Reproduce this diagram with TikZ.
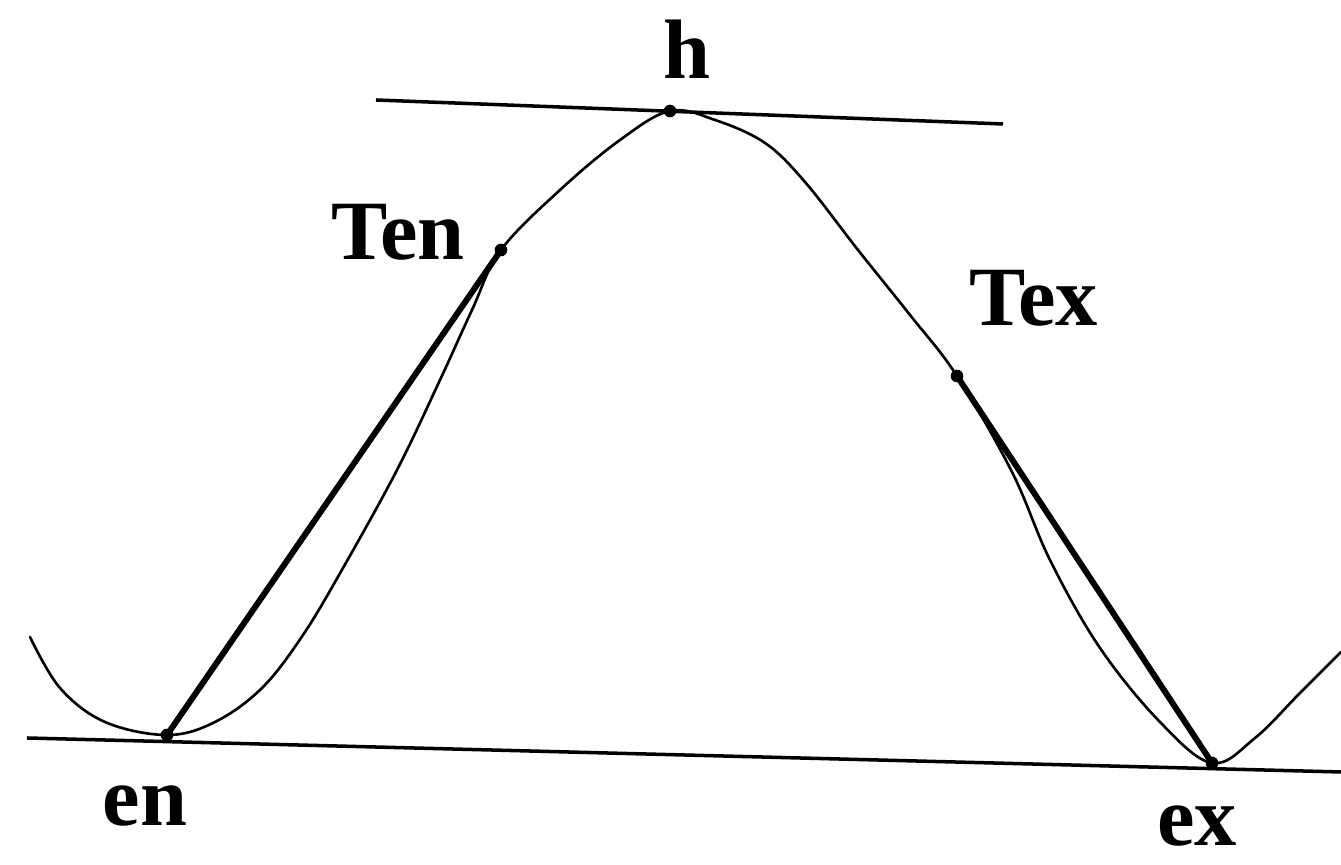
\documentclass[tikz,border=0pt]{standalone}
\usepackage{fontspec}
\setmainfont{Liberation Serif}
\begin{document}
\begin{tikzpicture}[x=0.01cm,y=-0.01cm,
  thinline/.style={line width=0.75pt,line join=round,line cap=round},
  thickline/.style={line width=1.7pt,line cap=round},
  baseline/.style={line width=1pt},
  pt/.style={circle,fill=black,inner sep=0pt,minimum size=3.6pt},
  lab/.style={font=\bfseries\fontsize{24}{24}\selectfont,inner sep=0pt}]
\useasboundingbox (0,0) rectangle (1341,865);
% key points
\node[pt] (en) at (167,735) {};
\node[pt] (Ten) at (501,250) {};
\node[pt] (h) at (670,111) {};
\node[pt] (Tex) at (957,376) {};
\node[pt] (ex) at (1212,763) {};
% tangent lines
\coordinate (tl1) at (376,100);
\coordinate (tl2) at (1003,124);
\coordinate (bl1) at (27,738);
\coordinate (bl2) at (1341,772);
\draw[baseline] (tl1) -- (tl2);
\draw[baseline] (bl1) -- (bl2);
% the curve
\draw[thinline] plot[smooth,tension=0.6] coordinates {
 (30,637) (60,688) (105,722) (167,735)
 (215,722) (262,688) (303,635) (343,568) (397,470) (440,380) (472,310) (501,250)
 (560,190) (620,140) (670,111) (715,120) (765,143) (805,182) (858,250) (910,315) (957,376)
 (1012,472) (1050,560) (1100,648) (1160,722) (1212,763)
 (1255,738) (1300,693) (1341,652)};
% chords
\draw[thickline] (en.center) -- (Ten.center);
\draw[thickline] (Tex.center) -- (ex.center);
% labels
\node[lab] (lh) at (687,49) {h};
\node[lab] (lTen) at (398,232) {Ten};
\node[lab] (lTex) at (1034,298) {Tex};
\node[lab] (len) at (145,806) {en};
\node[lab] (lex) at (1197,826) {ex};
\end{tikzpicture}
\end{document}
